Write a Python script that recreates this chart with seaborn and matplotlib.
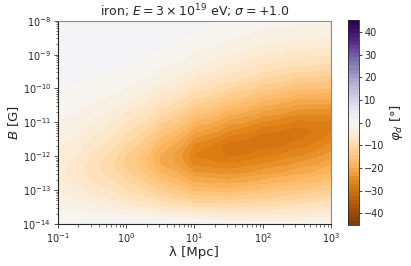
import numpy as np
import seaborn as sns
import matplotlib
matplotlib.use("Agg")  # no display
import matplotlib.pyplot as plt

# grid: log10(lambda / Mpc) and log10(B / G)
log_lam = [-1.0, -0.5, 0.0, 0.5, 1.0, 1.5, 2.0, 2.5, 3.0]
log_B = [-14.0, -13.75, -13.5, -13.25, -13.0, -12.75, -12.5, -12.25, -12.0,
         -11.75, -11.5, -11.25, -11.0, -10.75, -10.5, -10.25, -10.0,
         -9.75, -9.5, -9.25, -9.0, -8.75, -8.5, -8.25, -8.0]

# phi_d [deg] along B (bottom to top), one list per lambda column
phi_lam_m10 = [-0.1, -1.2, -2.2, -3.1, -3.9, -4.6, -5.0, -4.7, -4.2, -3.6, -3.1, -2.5, -1.9,
               -1.4, -0.9, -0.4, 0.0, 0.3, 0.5, 0.6, 0.7, 0.8, 0.9, 1.0, 1.0]
phi_lam_m05 = [0.9, -1.1, -3.3, -4.9, -6.2, -7.3, -8.2, -8.4, -7.7, -6.8, -5.8, -4.8, -3.9,
               -3.0, -2.1, -1.3, -0.6, -0.2, 0.2, 0.6, 0.8, 1.0, 1.1, 1.3, 1.3]
phi_lam_00 = [1.1, -1.8, -4.9, -7.2, -9.1, -10.8, -12.3, -13.4, -12.9, -11.6, -10.2, -8.7, -7.2,
              -5.8, -4.4, -3.1, -2.0, -1.2, -0.5, 0.1, 0.6, 0.9, 1.2, 1.4, 1.6]
phi_lam_05 = [0.9, -3.0, -7.2, -10.4, -13.2, -15.7, -18.0, -19.8, -20.1, -18.7, -16.7, -14.5, -12.4,
              -10.3, -8.2, -6.4, -4.7, -3.3, -2.2, -1.3, -0.5, 0.1, 0.6, 0.9, 1.2]
phi_lam_10 = [0.6, -4.2, -9.3, -13.4, -17.0, -20.3, -23.2, -25.8, -27.2, -26.3, -23.8, -21.1, -18.3,
              -15.6, -12.9, -10.4, -8.1, -6.2, -4.6, -3.2, -2.1, -1.2, -0.5, 0.0, 0.4]
phi_lam_15 = [-0.5, -5.2, -9.8, -13.9, -17.6, -21.0, -24.2, -26.9, -29.1, -30.0, -28.0, -25.2, -22.3,
              -19.3, -16.3, -13.5, -11.0, -8.7, -6.8, -5.1, -3.7, -2.6, -1.7, -1.0, -0.5]
phi_lam_20 = [-1.3, -5.2, -9.1, -12.7, -16.1, -19.3, -22.4, -25.1, -27.5, -29.4, -30.2, -28.2, -25.4,
              -22.5, -19.5, -16.5, -13.8, -11.2, -9.0, -7.0, -5.3, -3.9, -2.8, -1.9, -1.2]
phi_lam_25 = [-1.4, -4.9, -8.3, -11.5, -14.7, -17.7, -20.5, -23.1, -25.4, -27.5, -29.2, -29.8, -27.7,
              -24.9, -21.9, -18.9, -15.9, -13.2, -10.7, -8.4, -6.5, -4.8, -3.4, -2.3, -1.4]
phi_lam_30 = [-1.3, -4.3, -7.2, -10.1, -12.9, -15.5, -18.0, -20.3, -22.3, -24.3, -25.9, -27.2, -27.3,
              -24.9, -22.2, -19.3, -16.5, -13.8, -11.3, -9.0, -6.9, -5.1, -3.6, -2.4, -1.4]

cbar_ticks = [-40, -30, -20, -10, 0, 10, 20, 30, 40]

sns.set_style("ticks")
plt.rcParams["font.family"] = ["DejaVu Sans"]
plt.rcParams["mathtext.fontset"] = "dejavusans"

phi = np.array([phi_lam_m10, phi_lam_m05, phi_lam_00, phi_lam_05, phi_lam_10,
                phi_lam_15, phi_lam_20, phi_lam_25, phi_lam_30]).T
lam_grid, B_grid = np.meshgrid(10.0 ** np.array(log_lam), 10.0 ** np.array(log_B))

fig = plt.figure(figsize=(4.11, 2.66), dpi=100)
ax = fig.add_axes([0.141, 0.158, 0.664, 0.764])
cax = fig.add_axes([0.847, 0.155, 0.027, 0.768])

levels = np.linspace(-45, 45, 51)
cs = ax.contourf(lam_grid, B_grid, phi, levels=levels, cmap="PuOr", vmin=-45, vmax=45)
ax.set_xscale("log")
ax.set_yscale("log")
ax.set_xlim(1e-1, 1e3)
ax.set_ylim(1e-14, 1e-8)
ax.set_yticks([10.0 ** k for k in range(-14, -7)])

ax.tick_params(labelsize=7, length=3, width=0.6, color="0.2", pad=2)
ax.tick_params(which="minor", length=1.8, width=0.5, color="0.2")
for side in ["top", "right"]:
    ax.spines[side].set_color("0.55")
for sp in ax.spines.values():
    sp.set_linewidth(0.8)

ax.set_title(r"iron; $E = 3\times10^{19}$ eV; $\sigma = +1.0$", fontsize=9, pad=3)
ax.set_xlabel("λ [Mpc]", fontsize=9.5, labelpad=1)
ax.set_ylabel(r"$B$ [G]", fontsize=9.5, labelpad=1)

cb = fig.colorbar(cs, cax=cax, ticks=cbar_ticks)
cb.ax.tick_params(labelsize=7, length=2.2, width=0.6, pad=1.5)
cb.outline.set_linewidth(0.6)
cb.set_label(r"$\varphi_d$ [°]", fontsize=9.5, labelpad=2)

fig.savefig("out.png", dpi=100)
